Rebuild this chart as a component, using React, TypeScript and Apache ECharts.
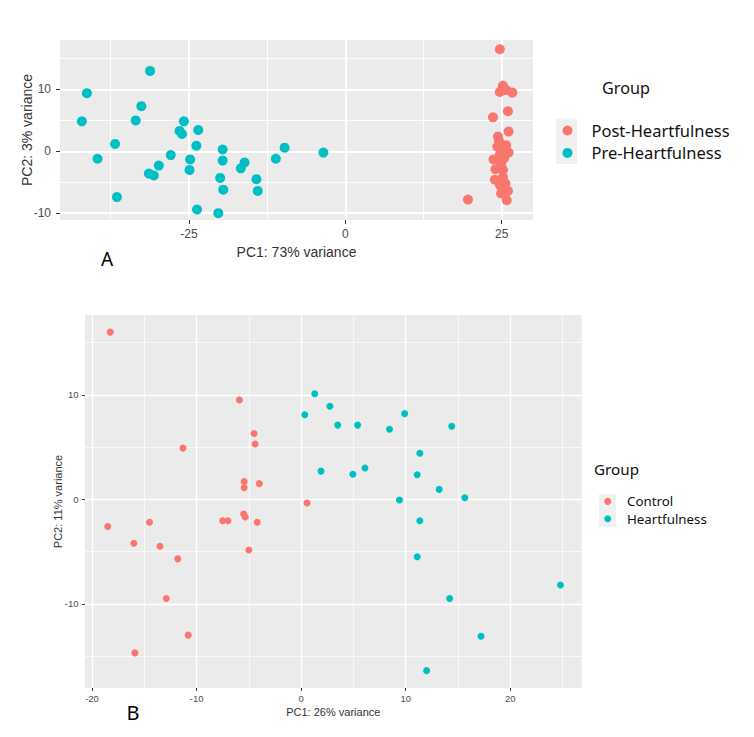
import React, { useEffect, useRef } from "react";
import * as echarts from "echarts";

// ---------- Panel A data ----------
const postHeartfulness: number[][] = [
  [24.7, 16.5], [25.2, 10.6], [24.7, 9.6], [25.7, 9.9], [26.7, 9.5], [26.0, 6.5],
  [23.6, 5.5], [26.1, 3.2], [24.4, 2.4], [24.55, 1.7], [25.7, 1.0], [24.3, 0.75],
  [25.2, -0.05], [26.1, -0.2], [24.7, -0.6], [25.4, -1.1], [23.7, -1.3], [24.9, -2.05],
  [24.0, -2.9], [25.2, -3.0], [25.2, -4.2], [23.9, -4.6], [24.7, -5.45], [25.6, -5.2],
  [26.0, -6.4], [24.9, -6.8], [25.8, -7.9], [19.6, -7.8],
];
const preHeartfulness: number[][] = [
  [-42.1, 4.85], [-41.3, 9.4], [-39.6, -1.2], [-36.8, 1.2], [-36.5, -7.4], [-33.5, 5.0],
  [-32.6, 7.3], [-31.2, 13.0], [-31.4, -3.6], [-30.6, -3.9], [-29.8, -2.3], [-27.9, -0.6],
  [-26.5, 3.3], [-26.1, 2.8], [-25.8, 4.85], [-24.9, -3.0], [-24.8, -1.3], [-23.8, 0.9],
  [-23.5, 3.45], [-23.7, -9.4], [-20.3, -10.0], [-20.0, -4.3], [-19.6, 0.3], [-19.6, -1.5],
  [-19.5, -6.2], [-16.7, -2.75], [-16.1, -1.8], [-14.2, -4.5], [-14.0, -6.4], [-11.1, -1.2],
  [-9.7, 0.6], [-3.5, -0.2],
];
const aXTicks = [-25, 0, 25];
const aXMinor = [-37.5, -12.5, 12.5];
const aYTicks = [-10, 0, 10];
const aYMinor = [-5, 5, 15];
const aXRange = [-45.6, 30.0];
const aYRange = [-11.1, 18.0];

// ---------- Panel B data ----------
const control: number[][] = [
  [-18.26, 16.0], [-5.9, 9.5], [-11.3, 4.9], [-4.5, 6.3], [-4.4, 5.3], [-5.45, 1.7],
  [-5.45, 1.1], [-4.0, 1.5], [-18.5, -2.6], [-16.0, -4.2], [-14.5, -2.2], [-13.5, -4.5],
  [-11.8, -5.7], [-12.9, -9.5], [-10.8, -13.0], [-15.9, -14.7], [-7.5, -2.05], [-7.0, -2.05],
  [-5.5, -1.4], [-5.35, -1.7], [-4.2, -2.2], [-5.0, -4.85], [0.57, -0.35],
];
const heartfulness: number[][] = [
  [1.3, 10.1], [0.35, 8.1], [2.75, 8.9], [3.5, 7.1], [5.4, 7.1], [8.45, 6.7],
  [9.9, 8.2], [14.4, 7.0], [11.35, 4.4], [1.9, 2.7], [4.95, 2.4], [6.1, 3.0],
  [11.1, 2.35], [13.2, 0.95], [15.65, 0.15], [9.4, -0.07], [11.35, -2.05], [11.1, -5.5],
  [14.2, -9.5], [17.2, -13.1], [12.0, -16.4], [24.8, -8.2],
];
const bXTicks = [-20, -10, 0, 10, 20];
const bXMinor = [-15, -5, 5, 15, 25];
const bYTicks = [-10, 0, 10];
const bYMinor = [-15, -5, 5, 15];
const bXRange = [-20.67, 26.83];
const bYRange = [-18.06, 17.64];

const RED = "#F8766D";
const TEAL = "#00BFC4";
const FONT = "Liberation Sans, Arial, sans-serif";
const LFONT = "Noto Sans, sans-serif";

function majorAxis(
  gridIndex: number,
  pos: string,
  range: number[],
  ticks: number[],
  fontSize: number,
  margin: number,
  tickLen: number,
  lineW: number
) {
  return {
    type: "value",
    gridIndex,
    position: pos,
    min: range[0],
    max: range[1],
    axisLine: { show: false, onZero: false },
    axisTick: {
      show: true,
      customValues: ticks,
      length: tickLen,
      lineStyle: { color: "#333333", width: 1 },
    },
    axisLabel: {
      show: true,
      customValues: ticks,
      margin,
      fontSize,
      color: "#4D4D4D",
      fontFamily: FONT,
    },
    splitLine: { show: true, lineStyle: { color: "#FFFFFF", width: lineW } },
  };
}

function minorAxis(gridIndex: number, pos: string, range: number[], ticks: number[], lineW: number) {
  return {
    type: "value",
    gridIndex,
    position: pos,
    min: range[0],
    max: range[1],
    axisLine: { show: false, onZero: false },
    axisTick: { show: false, customValues: ticks },
    axisLabel: { show: false, customValues: ticks },
    splitLine: { show: true, lineStyle: { color: "#FFFFFF", width: lineW } },
  };
}

export default function App() {
  const ref = useRef<HTMLDivElement>(null);
  useEffect(() => {
    if (!ref.current) return;
    const chart = echarts.init(ref.current, undefined, { renderer: "svg" });
    const option: any = {
      animation: false,
      backgroundColor: "#FFFFFF",
      grid: [
        { left: 60, top: 40, width: 473, height: 180, show: true, backgroundColor: "#EBEBEB", borderWidth: 0 },
        { left: 85, top: 315, width: 496.7, height: 373, show: true, backgroundColor: "#EBEBEB", borderWidth: 0 },
      ],
      xAxis: [
        majorAxis(0, "bottom", aXRange, aXTicks, 12, 8, 4, 1.8),
        minorAxis(0, "top", aXRange, aXMinor, 0.9),
        majorAxis(1, "bottom", bXRange, bXTicks, 9.5, 5, 3, 1.3),
        minorAxis(1, "top", bXRange, bXMinor, 0.7),
      ],
      yAxis: [
        majorAxis(0, "left", aYRange, aYTicks, 12, 9, 4, 1.8),
        minorAxis(0, "right", aYRange, aYMinor, 0.9),
        majorAxis(1, "left", bYRange, bYTicks, 9.5, 6.5, 3, 1.3),
        minorAxis(1, "right", bYRange, bYMinor, 0.7),
      ],
      legend: [
        {
          data: ["Post-Heartfulness", "Pre-Heartfulness"],
          orient: "vertical",
          left: 557.5,
          top: 117,
          itemWidth: 10,
          itemHeight: 10,
          itemGap: 5.4,
          icon: "circle",
          selectedMode: false,
          textStyle: { fontSize: 16.5, lineHeight: 16, color: "#111111", fontFamily: LFONT, padding: [0, 0, 0, 14] },
        },
        {
          data: ["Control", "Heartfulness"],
          orient: "vertical",
          left: 599.2,
          top: 489.4,
          itemWidth: 7,
          itemHeight: 7,
          itemGap: 3.3,
          icon: "circle",
          selectedMode: false,
          textStyle: { fontSize: 13.3, lineHeight: 14, color: "#111111", fontFamily: LFONT, padding: [0, 0, 0, 10.8] },
        },
      ],
      graphic: [
        { type: "rect", shape: { x: 556, y: 119, width: 21, height: 45 }, style: { fill: "#F0F0F0" }, z: 0 },
        { type: "rect", shape: { x: 599, y: 494, width: 17, height: 33 }, style: { fill: "#F0F0F0" }, z: 0 },
        {
          type: "text", x: 626, y: 88,
          style: { text: "Group", fontSize: 16.2, fontFamily: LFONT, fill: "#111111", align: "center", verticalAlign: "middle" },
        },
        {
          type: "text", x: 616.5, y: 468.5,
          style: { text: "Group", fontSize: 15.2, fontFamily: LFONT, fill: "#111111", align: "center", verticalAlign: "middle" },
        },
        {
          type: "text", x: 296.5, y: 251.7,
          style: { text: "PC1: 73% variance", fontSize: 14, fontFamily: FONT, fill: "#333333", align: "center", verticalAlign: "middle" },
        },
        {
          type: "text", x: 26.5, y: 130, rotation: Math.PI / 2,
          style: { text: "PC2: 3% variance", fontSize: 14, fontFamily: FONT, fill: "#333333", align: "center", verticalAlign: "middle" },
        },
        {
          type: "text", x: 333.3, y: 711.7,
          style: { text: "PC1: 26% variance", fontSize: 11, fontFamily: FONT, fill: "#333333", align: "center", verticalAlign: "middle" },
        },
        {
          type: "text", x: 58, y: 501.5, rotation: Math.PI / 2,
          style: { text: "PC2: 11% variance", fontSize: 11, fontFamily: FONT, fill: "#333333", align: "center", verticalAlign: "middle" },
        },
        {
          type: "text", x: 107, y: 259,
          style: { text: "A", fontSize: 19, fontFamily: LFONT, fill: "#000000", align: "center", verticalAlign: "middle" },
        },
        {
          type: "text", x: 133, y: 712.7,
          style: { text: "B", fontSize: 20, fontFamily: LFONT, fill: "#000000", align: "center", verticalAlign: "middle" },
        },
      ],
      series: [
        {
          name: "Post-Heartfulness", type: "scatter", xAxisIndex: 0, yAxisIndex: 0,
          data: postHeartfulness, symbolSize: 10, itemStyle: { color: RED, opacity: 1 }, z: 3,
        },
        {
          name: "Pre-Heartfulness", type: "scatter", xAxisIndex: 0, yAxisIndex: 0,
          data: preHeartfulness, symbolSize: 10, itemStyle: { color: TEAL, opacity: 1 }, z: 3,
        },
        {
          name: "Control", type: "scatter", xAxisIndex: 2, yAxisIndex: 2,
          data: control, symbolSize: 7, itemStyle: { color: RED, opacity: 1 }, z: 3,
        },
        {
          name: "Heartfulness", type: "scatter", xAxisIndex: 2, yAxisIndex: 2,
          data: heartfulness, symbolSize: 7, itemStyle: { color: TEAL, opacity: 1 }, z: 3,
        },
      ],
    };
    chart.setOption(option);
    return () => chart.dispose();
  }, []);
  return (
    <div
      ref={ref}
      style={{ position: "fixed", left: 0, top: 0, width: 754, height: 737, background: "#FFFFFF" }}
    />
  );
}
